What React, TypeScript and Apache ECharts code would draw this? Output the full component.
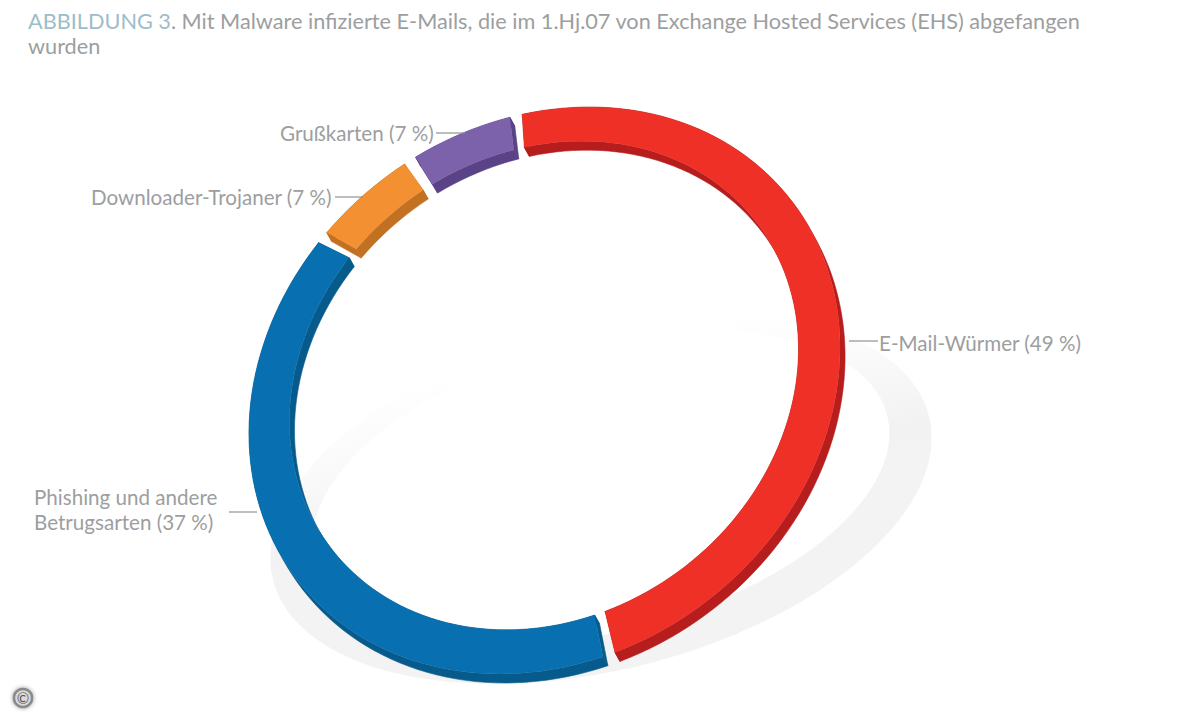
import React, { useEffect, useRef } from "react";
import * as echarts from "echarts";

const categories = ["E-Mail-Würmer", "Phishing und andere\nBetrugsarten", "Downloader-Trojaner", "Grußkarten"];
const values = [49, 37, 7, 7];
const topColors = ["#EE3027", "#0870B0", "#F39031", "#7C62AB"];
const sideColors = ["#B61D1C", "#065A8C", "#C27122", "#5A4286"];
const titleHead = "ABBILDUNG 3";
const titleRest = ". Mit Malware infizierte E-Mails, die im 1.Hj.07 von Exchange Hosted Services (EHS) abgefangen";
const titleTail = "wurden";

const FONT = "Lato";
const TEXT = "#9C9EA0";
const rad = Math.PI / 180;
const total = values.reduce((s, v) => s + v, 0);

const outer = { cx: 544.5, cy: 390.5, a: 311.5, b: 265.9, phi: 37.3 * rad };
const inner = { cx: 544, cy: 385.5, a: 268, b: 229.5, phi: 37.3 * rad };
const shade = { cx: 601, cy: 498, a: 338, b: 172, phi: 14 * rad };
const shadeIn = { cx: 601, cy: 487, a: 295, b: 145, phi: 14 * rad };

const START = -62.5;
const GAP = 1.2;
const SIDE = [5, 9];

function pt(e: any, deg: number) {
  const t = deg * rad;
  const x = e.a * Math.cos(t);
  const y = e.b * Math.sin(t);
  const c = Math.cos(e.phi);
  const s = Math.sin(e.phi);
  return [e.cx + c * x + s * y, e.cy - s * x + c * y];
}
// perspective foreshortening of the tilted ring: angle in the ring's plane to angle on the ellipse
const warp = (u: number) =>
  START + u + 2.1 * Math.sin(2 * u * rad) - 12.7 * Math.sin(u * rad) - 1.2 * (1 - Math.cos(u * rad));

function arc(e: any, from: number, to: number) {
  const n = Math.max(4, Math.ceil(Math.abs(to - from) / 2));
  const out: number[][] = [];
  for (let i = 0; i <= n; i++) out.push(pt(e, from + ((to - from) * i) / n));
  return out;
}
const shifted = (ps: number[][]) => ps.map((p) => [p[0] + SIDE[0], p[1] + SIDE[1]]);

function renderItem(params: any, api: any) {
  const i = params.dataIndex;
  const before = values.slice(0, i).reduce((s, v) => s + v, 0);
  const v = api.value(0);
  const a0 = warp((before / total) * 360) + GAP;
  const a1 = warp(((before + v) / total) * 360) - GAP;
  const o = arc(outer, a0, a1);
  const n = arc(inner, a0, a1);
  const strip = (p: number[][]) => [...p, ...shifted(p).reverse()];
  const side = { fill: sideColors[i], stroke: sideColors[i], lineWidth: 0.6 };
  return {
    type: "group",
    children: [
      { type: "polygon", shape: { points: strip(o) }, style: side },
      { type: "polygon", shape: { points: strip(n) }, style: side },
      { type: "polygon", shape: { points: strip([o[0], n[0]]) }, style: side },
      { type: "polygon", shape: { points: strip([o[o.length - 1], n[n.length - 1]]) }, style: side },
      { type: "polygon", shape: { points: [...o, ...n.slice().reverse()] }, style: { fill: topColors[i] } },
    ],
  };
}

const label = (text: string, x: number, y: number) => ({
  type: "text",
  x,
  y,
  z: 5,
  style: { text, fill: TEXT, font: `20.6px ${FONT}`, lineHeight: 25, textVerticalAlign: "middle" },
});
const leader = (x1: number, x2: number, y: number) => ({
  type: "line",
  z: 5,
  shape: { x1, y1: y, x2, y2: y },
  style: { stroke: "#8F9193", lineWidth: 1.2 },
});
const full = (i: number) => `${categories[i]} (${values[i]} %)`;

export default function App() {
  const ref = useRef<HTMLDivElement>(null);
  useEffect(() => {
    const chart = echarts.init(ref.current!, null, { renderer: "svg" });
    const shadowPts = [...arc(shade, 0, 360), ...arc(shadeIn, 360, 0)];
    chart.setOption({
      animation: false,
      backgroundColor: "#ffffff",
      title: {
        left: 28,
        top: 8,
        padding: 0,
        text: `{h|${titleHead}}{r|${titleRest}}\n{r|${titleTail}}`,
        textStyle: {
          fontWeight: "normal",
          rich: {
            h: { fontFamily: FONT, fontSize: 21.7, fontWeight: "normal", color: "#9CBDCA", lineHeight: 25 },
            r: { fontFamily: FONT, fontSize: 21.7, fontWeight: "normal", color: TEXT, lineHeight: 25 },
          },
        },
      },
      graphic: [
        {
          type: "polygon",
          z: -1,
          silent: true,
          shape: { points: shadowPts },
          style: {
            fill: new echarts.graphic.LinearGradient(560, 330, 600, 520, [
              { offset: 0, color: "#FFFFFF" },
              { offset: 0.12, color: "#FFFFFF" },
              { offset: 0.45, color: "#FAFAFA" },
              { offset: 0.85, color: "#F2F2F2" },
              { offset: 1, color: "#F3F3F3" },
            ], true),
          },
        },
        label(full(3), 280, 133),
        leader(436, 465, 133),
        label(full(2), 91, 197),
        leader(335, 363, 197),
        label(full(0), 879, 343),
        leader(849, 878, 341),
        label(full(1), 34, 509),
        leader(229, 257, 512),
        {
          type: "circle",
          z: 5,
          shape: { cx: 23, cy: 698, r: 9 },
          style: { fill: "#DADADA", stroke: "#8A8A8A", lineWidth: 2.5, shadowBlur: 4, shadowColor: "#999999" },
        },
        {
          type: "text",
          x: 23,
          y: 698,
          z: 6,
          style: { text: "©", fill: "#555555", font: `15px ${FONT}`, textAlign: "center", textVerticalAlign: "middle" },
        },
      ],
      series: [
        {
          type: "custom",
          coordinateSystem: "none",
          silent: true,
          clip: false,
          renderItem,
          data: values.map((v) => [v]),
        },
      ],
    });
    return () => chart.dispose();
  }, []);
  return <div ref={ref} style={{ position: "fixed", left: 0, top: 0, width: 1200, height: 720 }} />;
}
